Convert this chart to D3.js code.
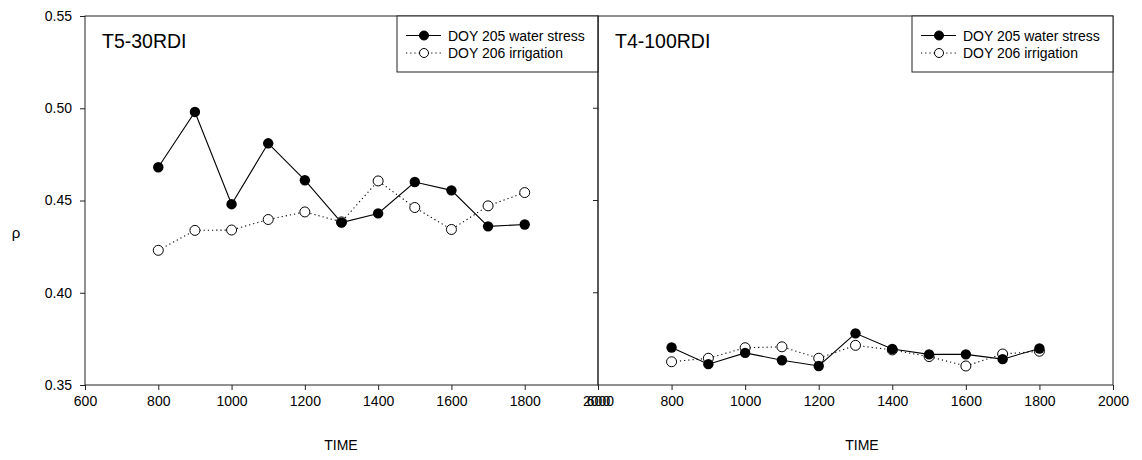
<!DOCTYPE html>
<html>
<head>
<meta charset="utf-8">
<script src="https://cdn.jsdelivr.net/npm/d3@7"></script>
<style>
  body { margin: 0; background: #fff; }
  text { font-family: "Liberation Sans", Arial, sans-serif; fill: #000; }
  .axis path, .axis line { stroke: #222; }
</style>
</head>
<body>
<div id="container"></div>
<script>
/* DATA */
const times = [800, 900, 1000, 1100, 1200, 1300, 1400, 1500, 1600, 1700, 1800];
const t5Stress = [0.468, 0.498, 0.448, 0.481, 0.461, 0.438, 0.443, 0.460, 0.4555, 0.436, 0.437];
const t5Irrig  = [0.423, 0.4338, 0.434, 0.4397, 0.4438, 0.4384, 0.4606, 0.4462, 0.4343, 0.4471, 0.4543];
const t4Stress = [0.3703, 0.3613, 0.3674, 0.3634, 0.3603, 0.3780, 0.3695, 0.3666, 0.3666, 0.3640, 0.3698];
const t4Irrig  = [0.3626, 0.3645, 0.3702, 0.3707, 0.3645, 0.3715, 0.3690, 0.3654, 0.3603, 0.3668, 0.3683];
const xTicks = [600, 800, 1000, 1200, 1400, 1600, 1800, 2000];
const yTicks = [0.35, 0.40, 0.45, 0.50, 0.55];
const legendLabels = ["DOY 205 water stress", "DOY 206 irrigation"];

const width = 1142, height = 460;
const plotTop = 16, plotBottom = 385;

const svg = d3.select("#container").append("svg")
  .attr("width", width)
  .attr("height", height);

const yScale = d3.scaleLinear().domain([0.35, 0.55]).range([plotBottom, plotTop]);

// two panels side by side, sharing the border at x=598
const panels = [
  { title: "T5-30RDI", x0: 85, x1: 598, timeX: 341, stress: t5Stress, irrig: t5Irrig, first: true },
  { title: "T4-100RDI", x0: 598, x1: 1113, timeX: 862, stress: t4Stress, irrig: t4Irrig, first: false }
];

panels.forEach(p => {
  const xScale = d3.scaleLinear().domain([600, 2000]).range([p.x0, p.x1]);
  const g = svg.append("g");

  // frame
  g.append("rect")
    .attr("x", p.x0).attr("y", plotTop)
    .attr("width", p.x1 - p.x0).attr("height", plotBottom - plotTop)
    .attr("fill", "none").attr("stroke", "#222");

  // bottom axis
  const xAxis = d3.axisBottom(xScale).tickValues(xTicks).tickSize(5).tickPadding(6).tickFormat(d3.format("d"));
  g.append("g").attr("class", "axis")
    .attr("transform", `translate(0,${plotBottom})`)
    .call(xAxis)
    .call(a => a.select(".domain").remove())
    .call(a => a.selectAll("text").attr("font-size", 14).style("font-family", "Liberation Sans, Arial"));

  if (p.first) {
    const yAxis = d3.axisLeft(yScale).tickValues(yTicks).tickSize(5).tickPadding(8).tickFormat(d3.format(".2f"));
    g.append("g").attr("class", "axis")
      .attr("transform", `translate(${p.x0},0)`)
      .call(yAxis)
      .call(a => a.select(".domain").remove())
      .call(a => a.selectAll("text").attr("font-size", 14).style("font-family", "Liberation Sans, Arial"));

    // inner ticks on the right border
    g.selectAll(".rtick")
      .data(yTicks.slice(1, -1))
      .join("line")
      .attr("x1", p.x1 - 5).attr("x2", p.x1)
      .attr("y1", d => yScale(d)).attr("y2", d => yScale(d))
      .attr("stroke", "#222");

    g.append("text")
      .attr("x", 16).attr("y", 238)
      .attr("text-anchor", "middle")
      .attr("font-size", 15)
      .text("ρ");
  }

  // title
  g.append("text")
    .attr("x", p.x0 + 17).attr("y", 48)
    .attr("font-size", 19.5)
    .text(p.title);

  // axis title
  g.append("text")
    .attr("x", p.timeX).attr("y", 450)
    .attr("text-anchor", "middle")
    .attr("font-size", 14)
    .text("TIME");

  const line = d3.line()
    .x((d, i) => xScale(times[i]))
    .y(d => yScale(d));

  g.append("path").datum(p.irrig)
    .attr("d", line)
    .attr("fill", "none").attr("stroke", "#000")
    .attr("stroke-width", 1.1)
    .attr("stroke-dasharray", "1.2,3");

  g.append("path").datum(p.stress)
    .attr("d", line)
    .attr("fill", "none").attr("stroke", "#000")
    .attr("stroke-width", 1.1);

  g.selectAll(".open").data(p.irrig).join("circle")
    .attr("cx", (d, i) => xScale(times[i]))
    .attr("cy", d => yScale(d))
    .attr("r", 5)
    .attr("fill", "#fff").attr("stroke", "#000");

  g.selectAll(".filled").data(p.stress).join("circle")
    .attr("cx", (d, i) => xScale(times[i]))
    .attr("cy", d => yScale(d))
    .attr("r", 5.2)
    .attr("fill", "#000");

  // legend
  const lx = p.x1 - 201;
  const leg = g.append("g");
  leg.append("rect")
    .attr("x", lx).attr("y", plotTop)
    .attr("width", 201).attr("height", 56)
    .attr("fill", "#fff").attr("stroke", "#222");

  legendLabels.forEach((label, i) => {
    const ly = 35.5 + i * 17.5;
    leg.append("line")
      .attr("x1", lx + 9).attr("x2", lx + 44)
      .attr("y1", ly).attr("y2", ly)
      .attr("stroke", "#000").attr("stroke-width", 1.1)
      .attr("stroke-dasharray", i === 0 ? null : "1.2,3");
    leg.append("circle")
      .attr("cx", lx + 27).attr("cy", ly)
      .attr("r", 4.5)
      .attr("fill", i === 0 ? "#000" : "#fff")
      .attr("stroke", "#000");
    leg.append("text")
      .attr("x", lx + 51).attr("y", ly + 5)
      .attr("font-size", 14)
      .text(label);
  });
});
</script>
</body>
</html>
